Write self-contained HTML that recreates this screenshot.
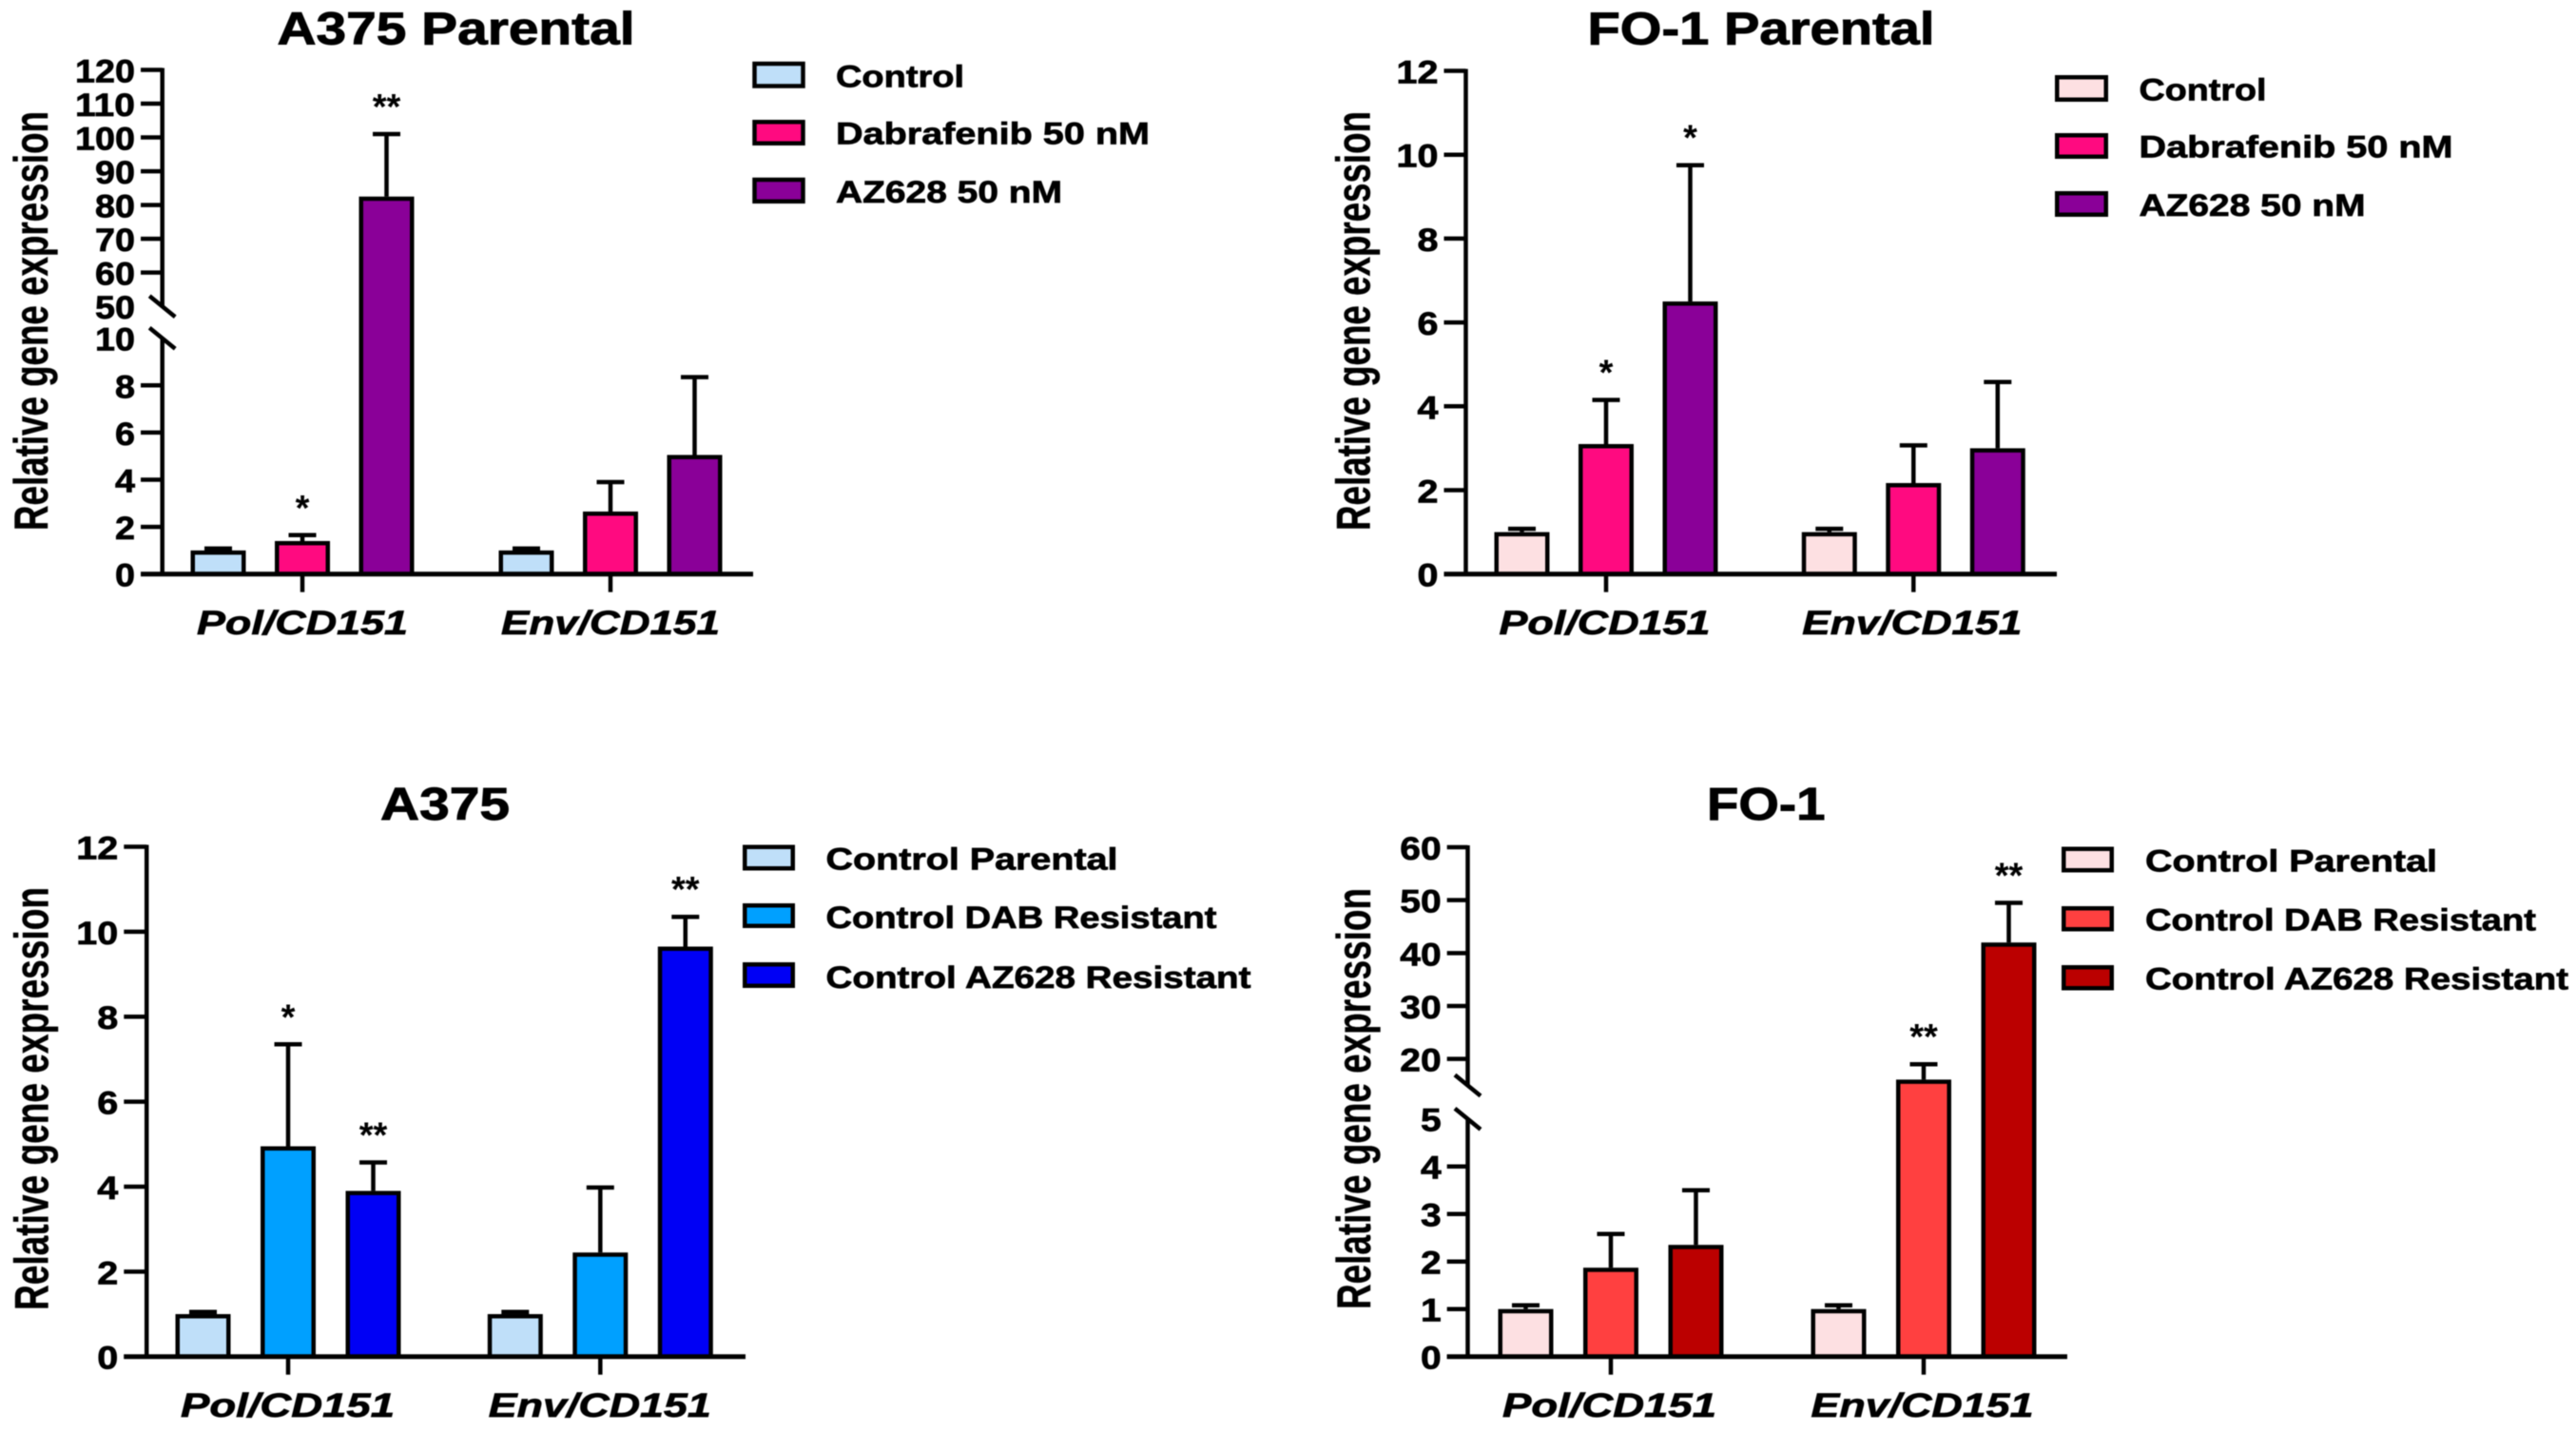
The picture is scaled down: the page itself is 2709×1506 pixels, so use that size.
<!DOCTYPE html>
<html lang="en">
<head>
<meta charset="utf-8">
<title>Relative gene expression charts</title>
<style>
html,body{margin:0;padding:0;background:#fff;width:2709px;height:1506px;overflow:hidden}
svg{display:block;filter:blur(.5px)}
text{font-family:"Liberation Sans",sans-serif;font-weight:700;fill:#000;stroke:#000;stroke-width:.7}
.title{font-size:48px;stroke-width:.9}
.ylab{font-size:50px;stroke-width:.4}
.leg{font-size:32px}
.sw{stroke:#000;stroke-width:4.5}
.star{stroke:none}
</style>
</head>
<body>
<svg id="figure" width="2709" height="1506" viewBox="0 0 2709 1506" xmlns="http://www.w3.org/2000/svg">
<rect width="2709" height="1506" fill="#fff"/>

<g id="chart-a375-parental">
  <text class="title" x="291.5" y="46.7" textLength="376" lengthAdjust="spacingAndGlyphs">A375 Parental</text>
  <text class="ylab" transform="translate(50,558) rotate(-90)" textLength="441" lengthAdjust="spacingAndGlyphs">Relative gene expression</text>
  <g>
    <rect class="sw" x="793.5" y="67" width="51" height="23.5" fill="#bfdff9"/>
    <text class="leg" x="879" y="91.7" textLength="135" lengthAdjust="spacingAndGlyphs">Control</text>
    <rect class="sw" x="793.5" y="128.25" width="51" height="22.5" fill="#ff0a80"/>
    <text class="leg" x="879" y="151.7" textLength="330" lengthAdjust="spacingAndGlyphs">Dabrafenib 50 nM</text>
    <rect class="sw" x="793.5" y="189" width="51" height="22.8" fill="#8a0098"/>
    <text class="leg" x="879" y="213" textLength="238" lengthAdjust="spacingAndGlyphs">AZ628 50 nM</text>
  </g>
</g>

<g id="chart-fo1-parental">
  <text class="title" x="1669.5" y="46.7" textLength="365" lengthAdjust="spacingAndGlyphs">FO-1 Parental</text>
  <text class="ylab" transform="translate(1440.5,558) rotate(-90)" textLength="441" lengthAdjust="spacingAndGlyphs">Relative gene expression</text>
  <g>
    <rect class="sw" x="2163.25" y="81.25" width="51.5" height="23.5" fill="#fde0e2"/>
    <text class="leg" x="2249.5" y="105.7" textLength="134" lengthAdjust="spacingAndGlyphs">Control</text>
    <rect class="sw" x="2163.25" y="142.25" width="51.5" height="22.5" fill="#ff0a80"/>
    <text class="leg" x="2249.5" y="165.7" textLength="330" lengthAdjust="spacingAndGlyphs">Dabrafenib 50 nM</text>
    <rect class="sw" x="2163.25" y="203.25" width="51.5" height="22.5" fill="#8a0098"/>
    <text class="leg" x="2249.5" y="227" textLength="238" lengthAdjust="spacingAndGlyphs">AZ628 50 nM</text>
  </g>
</g>

<g id="chart-a375">
  <text class="title" x="400" y="862" textLength="136" lengthAdjust="spacingAndGlyphs">A375</text>
  <text class="ylab" transform="translate(50.5,1378) rotate(-90)" textLength="445" lengthAdjust="spacingAndGlyphs">Relative gene expression</text>
  <g>
    <rect class="sw" x="783.25" y="890.75" width="50.5" height="22.5" fill="#bfdff9"/>
    <text class="leg" x="868.5" y="914.5" textLength="307" lengthAdjust="spacingAndGlyphs">Control Parental</text>
    <rect class="sw" x="783.25" y="952.25" width="50.5" height="21.5" fill="#00a0ff"/>
    <text class="leg" x="868.5" y="976" textLength="411" lengthAdjust="spacingAndGlyphs">Control DAB Resistant</text>
    <rect class="sw" x="783.25" y="1014.25" width="50.5" height="22.5" fill="#0000f5"/>
    <text class="leg" x="868.5" y="1039" textLength="447" lengthAdjust="spacingAndGlyphs">Control AZ628 Resistant</text>
  </g>
</g>

<g id="chart-fo1">
  <text class="title" x="1795" y="862" textLength="124.5" lengthAdjust="spacingAndGlyphs">FO-1</text>
  <text class="ylab" transform="translate(1441,1377) rotate(-90)" textLength="443" lengthAdjust="spacingAndGlyphs">Relative gene expression</text>
  <g>
    <rect class="sw" x="2170.25" y="892.75" width="50.5" height="22.5" fill="#fde0e2"/>
    <text class="leg" x="2256" y="916.5" textLength="307" lengthAdjust="spacingAndGlyphs">Control Parental</text>
    <rect class="sw" x="2170.25" y="955.25" width="50.5" height="22" fill="#ff4040"/>
    <text class="leg" x="2256" y="978.5" textLength="411" lengthAdjust="spacingAndGlyphs">Control DAB Resistant</text>
    <rect class="sw" x="2170.25" y="1017.25" width="50.5" height="22" fill="#bb0000"/>
    <text class="leg" x="2256" y="1040.5" textLength="445" lengthAdjust="spacingAndGlyphs">Control AZ628 Resistant</text>
  </g>
</g>
</svg>

<script>
// ---- shared categories ----
const categories = ['Pol/CD151', 'Env/CD151'];

// ---- A375 Parental ----
const a375ParentalTicks = [0, 2, 4, 6, 8, 10, 50, 60, 70, 80, 90, 100, 110, 120];
const a375ParentalMeans = [[1, 1], [1.4, 2.65], [82.5, 5.05]];
const a375ParentalErrorTops = [[1.08, 1.08], [1.65, 3.9], [101, 8.35]];
const a375ParentalStars = [['', ''], ['*', ''], ['**', '']];

// ---- FO-1 Parental ----
const fo1ParentalTicks = [0, 2, 4, 6, 8, 10, 12];
const fo1ParentalMeans = [[1, 1], [3.1, 2.17], [6.5, 3]];
const fo1ParentalErrorTops = [[1.08, 1.08], [4.15, 3.07], [9.75, 4.58]];
const fo1ParentalStars = [['', ''], ['*', ''], ['*', '']];

// ---- A375 resistant ----
const a375Ticks = [0, 2, 4, 6, 8, 10, 12];
const a375Means = [[1, 1], [4.95, 2.45], [3.9, 9.65]];
const a375ErrorTops = [[1.05, 1.05], [7.35, 3.98], [4.57, 10.35]];
const a375Stars = [['', ''], ['*', ''], ['**', '**']];

// ---- FO-1 resistant ----
const fo1Ticks = [0, 1, 2, 3, 4, 5, 20, 30, 40, 50, 60];
const fo1Means = [[1, 1], [1.87, 16.1], [2.35, 42]];
const fo1ErrorTops = [[1.08, 1.08], [2.58, 19], [3.5, 49.5]];
const fo1Stars = [['', ''], ['', '**'], ['', '**']];

const NS = 'http://www.w3.org/2000/svg';

function node(tag, attrs, parent) {
  const n = document.createElementNS(NS, tag);
  for (const k in attrs) n.setAttribute(k, attrs[k]);
  parent.appendChild(n);
  return n;
}

function drawChart(c) {
  const root = document.getElementById(c.id);

  function y(v) {
    for (const s of c.segments) {
      if (v <= s.to) return s.y0 + (v - s.from) * (s.y1 - s.y0) / (s.to - s.from);
    }
    const s = c.segments[c.segments.length - 1];
    return s.y0 + (v - s.from) * (s.y1 - s.y0) / (s.to - s.from);
  }
  function x(groupIndex, seriesIndex) {
    return c.x0 + groupIndex * c.groupStep + (seriesIndex - 1) * c.barStep;
  }

  // bars, error bars, significance marks
  c.means.forEach(function (seriesValues, s) {
    seriesValues.forEach(function (v, g) {
      const cx = x(g, s);
      const top = y(c.errorTops[s][g]);
      const err = node('path', {
        d: 'M' + cx + ' ' + y(v) + 'V' + top + 'M' + (cx - 14.5) + ' ' + top + 'H' + (cx + 14.5),
        stroke: '#000', 'stroke-width': 4.5, fill: 'none'
      }, root);
      
      

      const barTop = y(v) + 2.25;
      const bar = node('rect', {
        x: cx - 26.75, y: barTop, width: 53.5, height: Math.max(0, y(0) - barTop),
        fill: c.colors[s], stroke: '#000', 'stroke-width': 4.5
      }, root);
      
      

      if (c.stars[s][g]) {
        const star = node('text', {
          x: cx, y: top - 16, 'text-anchor': 'middle', 'font-size': 38, class: 'star'
        }, root);
        star.textContent = c.stars[s][g];
        
        
      }
    });
  });

  // y axis line (split at the break when there is one)
  const yTop = y(c.ticks[c.ticks.length - 1]);
  let axisPath = 'M' + c.axisX + ' ' + (yTop - 2) + 'V' + (c.breaks.length ? y(c.breaks[1]) : y(0));
  if (c.breaks.length) axisPath += 'M' + c.axisX + ' ' + y(c.breaks[0]) + 'V' + y(0);
  const yAxis = node('path', { d: axisPath, stroke: '#000', 'stroke-width': 4.5, fill: 'none' }, root);
  
  

  // axis-break slashes
  c.breaks.forEach(function (v) {
    const by = y(v);
    const slash = node('line', {
      x1: c.axisX - 13.5, y1: by - 11, x2: c.axisX + 13.5, y2: by + 11,
      stroke: '#000', 'stroke-width': 4.5
    }, root);
    
    
  });

  // ticks and tick labels
  c.ticks.forEach(function (t) {
    const ty = y(t);
    if (c.breaks.indexOf(t) < 0) {
      const mark = node('line', {
        x1: c.tickLeft, y1: ty, x2: c.axisX, y2: ty, stroke: '#000', 'stroke-width': 4.5
      }, root);
      
      
    }
    const s = String(t);
    const label = node('text', {
      x: c.tickLeft - 6 - s.length * c.digitW, y: ty + 13, 'font-size': 34,
      textLength: s.length * c.digitW, lengthAdjust: 'spacingAndGlyphs'
    }, root);
    label.textContent = s;
    
    
  });

  // x axis, category ticks and labels
  const xAxis = node('line', {
    x1: c.tickLeft, y1: y(0), x2: c.axisEnd, y2: y(0), stroke: '#000', 'stroke-width': 5
  }, root);
  
  

  categories.forEach(function (name, g) {
    const cx = x(g, 1);
    const mark = node('line', {
      x1: cx, y1: y(0), x2: cx, y2: y(0) + 19, stroke: '#000', 'stroke-width': 4.5
    }, root);
    
    

    const w = c.catWidths[g];
    const label = node('text', {
      x: cx - w / 2 - c.catShift, y: c.catY, 'font-size': 35, 'font-style': 'italic',
      textLength: w, lengthAdjust: 'spacingAndGlyphs'
    }, root);
    label.textContent = name;
    
    
  });
}

drawChart({
  id: 'chart-a375-parental', ticks: a375ParentalTicks, means: a375ParentalMeans,
  errorTops: a375ParentalErrorTops, stars: a375ParentalStars,
  colors: ['#bfdff9', '#ff0a80', '#8a0098'],
  segments: [{ from: 0, to: 10, y0: 603.7, y1: 355.7 }, { from: 50, to: 120, y0: 322.2, y1: 73.5 }],
  breaks: [10, 50], axisX: 170.7, tickLeft: 148, axisEnd: 792,
  x0: 318, groupStep: 324, barStep: 88.5, digitW: 21, catY: 667, catWidths: [222, 230], catShift: 0
});
drawChart({
  id: 'chart-fo1-parental', ticks: fo1ParentalTicks, means: fo1ParentalMeans,
  errorTops: fo1ParentalErrorTops, stars: fo1ParentalStars,
  colors: ['#fde0e2', '#ff0a80', '#8a0098'],
  segments: [{ from: 0, to: 12, y0: 603.7, y1: 74.5 }],
  breaks: [], axisX: 1541.5, tickLeft: 1518.5, axisEnd: 2163,
  x0: 1689, groupStep: 323.3, barStep: 88.5, digitW: 22, catY: 667, catWidths: [222, 231], catShift: 1.5
});
drawChart({
  id: 'chart-a375', ticks: a375Ticks, means: a375Means,
  errorTops: a375ErrorTops, stars: a375Stars,
  colors: ['#bfdff9', '#00a0ff', '#0000f5'],
  segments: [{ from: 0, to: 12, y0: 1426.7, y1: 890.5 }],
  breaks: [], axisX: 154.2, tickLeft: 130.3, axisEnd: 784,
  x0: 303, groupStep: 328.3, barStep: 89.5, digitW: 22, catY: 1490, catWidths: [225, 234], catShift: 0.5
});
drawChart({
  id: 'chart-fo1', ticks: fo1Ticks, means: fo1Means,
  errorTops: fo1ErrorTops, stars: fo1Stars,
  colors: ['#fde0e2', '#ff4040', '#bb0000'],
  segments: [{ from: 0, to: 5, y0: 1426.7, y1: 1176.7 }, { from: 15, to: 60, y0: 1141.5, y1: 891 }],
  breaks: [5, 15], axisX: 1543.5, tickLeft: 1521.7, axisEnd: 2174,
  x0: 1694, groupStep: 329, barStep: 89.5, digitW: 21.7, catY: 1490, catWidths: [225, 234], catShift: 1.5
});
</script>
</body>
</html>
